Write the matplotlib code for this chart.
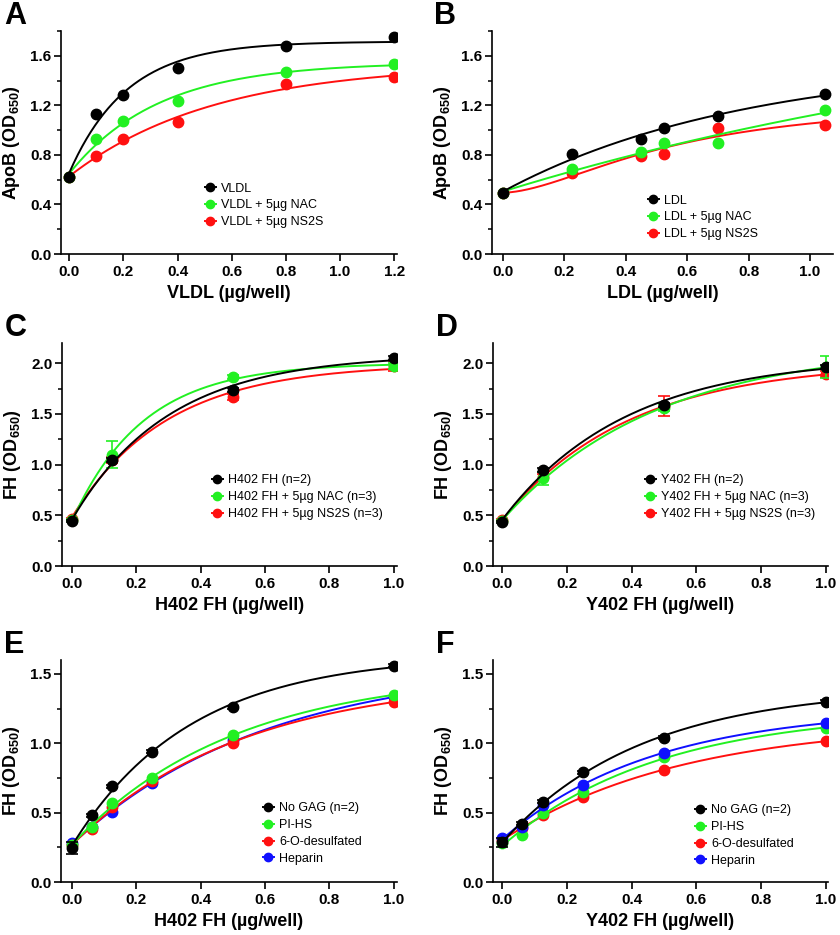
import numpy as np
import matplotlib
matplotlib.use('Agg')
import matplotlib.pyplot as plt
from matplotlib.lines import Line2D
from matplotlib.ticker import MultipleLocator, FormatStrFormatter

plt.rcParams['font.family'] = ['Liberation Sans', 'DejaVu Sans']
plt.rcParams['font.weight'] = 'bold'
plt.rcParams['mathtext.fontset'] = 'custom'
plt.rcParams['mathtext.rm'] = 'Liberation Sans:bold'
plt.rcParams['mathtext.it'] = 'Liberation Sans:bold'
plt.rcParams['mathtext.bf'] = 'Liberation Sans:bold'

BLACK = '#000000'
GREEN = '#22f022'
RED = '#ff1010'
BLUE = '#1010ff'

# panel A - VLDL
a_x = [0, 0.1, 0.2, 0.4, 0.8, 1.2]
a_vldl = [0.62, 1.13, 1.28, 1.50, 1.68, 1.75]
a_nac = [0.62, 0.93, 1.07, 1.235, 1.47, 1.535]
a_ns2s = [0.62, 0.79, 0.93, 1.065, 1.37, 1.425]
a_labels = ['VLDL', 'VLDL + 5µg NAC', 'VLDL + 5µg NS2S']

# panel B - LDL
b_x = [0, 0.225, 0.45, 0.525, 0.7, 1.05]
b_ldl = [0.49, 0.81, 0.93, 1.02, 1.115, 1.29]
b_nac = [0.49, 0.69, 0.82, 0.895, 0.90, 1.16]
b_ns2s = [0.49, 0.65, 0.79, 0.81, 1.02, 1.045]
b_labels = ['LDL', 'LDL + 5µg NAC', 'LDL + 5µg NS2S']

# panel C - H402 FH
c_x = [0, 0.125, 0.5, 1.0]
c_fh = [0.44, 1.05, 1.74, 2.05]
c_fh_err = [0.01, 0.02, 0.02, 0.02]
c_nac = [0.45, 1.10, 1.865, 1.97]
c_nac_err = [0.01, 0.13, 0.02, 0.03]
c_ns2s = [0.46, 1.05, 1.67, 1.97]
c_ns2s_err = [0.01, 0.03, 0.03, 0.05]
c_labels = ['H402 FH (n=2)', 'H402 FH + 5µg NAC (n=3)', 'H402 FH + 5µg NS2S (n=3)']

# panel D - Y402 FH
d_x = [0, 0.125, 0.5, 1.0]
d_fh = [0.43, 0.95, 1.59, 1.965]
d_fh_err = [0.01, 0.02, 0.02, 0.02]
d_nac = [0.44, 0.865, 1.555, 1.965]
d_nac_err = [0.01, 0.065, 0.03, 0.11]
d_ns2s = [0.45, 0.88, 1.575, 1.89]
d_ns2s_err = [0.01, 0.03, 0.10, 0.03]
d_labels = ['Y402 FH (n=2)', 'Y402 FH + 5µg NAC (n=3)', 'Y402 FH + 5µg NS2S (n=3)']

# panels E/F - GAGs
ef_x = [0, 0.0625, 0.125, 0.25, 0.5, 1.0]
e_nogag = [0.245, 0.48, 0.69, 0.94, 1.26, 1.56]
e_nogag_err = [0.04, 0.01, 0.01, 0.01, 0.01, 0.01]
e_pihs = [0.27, 0.40, 0.57, 0.75, 1.056, 1.35]
e_6o = [0.27, 0.385, 0.54, 0.727, 1.00, 1.30]
e_hep = [0.28, 0.40, 0.505, 0.715, 1.02, 1.33]
f_nogag = [0.285, 0.42, 0.58, 0.79, 1.04, 1.30]
f_nogag_err = [0.035, 0.01, 0.01, 0.01, 0.01, 0.01]
f_pihs = [0.28, 0.34, 0.50, 0.65, 0.90, 1.11]
f_6o = [0.30, 0.39, 0.48, 0.61, 0.81, 1.015]
f_hep = [0.315, 0.40, 0.555, 0.70, 0.93, 1.145]
ef_labels = ['No GAG (n=2)', 'PI-HS', '6-O-desulfated', 'Heparin']


def fit_assoc(x, y):
    # one-phase association, grid over k + linear least squares
    x = np.asarray(x, float)
    y = np.asarray(y, float)
    best = None
    for k in np.linspace(0.05, 40, 4000):
        A = np.column_stack([np.ones_like(x), 1 - np.exp(-k * x)])
        coef = np.linalg.lstsq(A, y, rcond=None)[0]
        r = np.sum((A @ coef - y) ** 2)
        if best is None or r < best[0]:
            best = (r, k, coef)
    _, k, coef = best
    return lambda t: coef[0] + coef[1] * (1 - np.exp(-k * t))


def fit_hill(x, y):
    # sigmoidal fit, grid over K and h
    x = np.asarray(x, float)
    y = np.asarray(y, float)
    best = None
    for K in np.linspace(0.1, 1.5, 141):
        for h in np.linspace(1.0, 4.0, 61):
            g = x ** h / (K ** h + x ** h)
            A = np.column_stack([np.ones_like(x), g])
            coef = np.linalg.lstsq(A, y, rcond=None)[0]
            if coef[1] < 0:
                continue
            r = np.sum((A @ coef - y) ** 2)
            if best is None or r < best[0]:
                best = (r, K, h, coef)
    _, K, h, coef = best
    return lambda t: coef[0] + coef[1] * t ** h / (K ** h + t ** h)


W, H = 840, 935
fig = plt.figure(figsize=(W / 100, H / 100), dpi=100)


def make_ax(l, t, r, b):
    ax = fig.add_axes([l / W, 1 - b / H, (r - l) / W, (b - t) / H])
    for s in ['top', 'right']:
        ax.spines[s].set_visible(False)
    for s in ['left', 'bottom']:
        ax.spines[s].set_linewidth(1.2)
    ax.tick_params(which='major', length=5, width=1.2, labelsize=11, pad=2)
    ax.tick_params(axis='y', which='minor', length=3, width=1.1)
    ax.tick_params(axis='x', pad=3)
    return ax


def series(ax, x, y, color, z, err=None, curve=None):
    x = np.asarray(x)
    if err is not None:
        ax.errorbar(x, y, yerr=err, fmt='none', ecolor=color, elinewidth=1.2,
                    capsize=4, capthick=1.2, zorder=z)
    if curve is None:
        curve = fit_assoc(x, y)
    t = np.linspace(0, x.max(), 300)
    ax.plot(t, curve(t), color=color, lw=1.4, zorder=z)
    ax.plot(x, y, 'o', color=color, ms=7.5, mec=color, zorder=z + 0.5)


def legend(ax, colors, labels, mx, my):
    hs = [Line2D([0], [0], color=c, marker='o', ms=6, lw=1.4) for c in colors]
    ax.legend(hs, labels, loc='upper left', frameon=False,
              prop={'size': 9, 'weight': 'normal'},
              handlelength=0.9, handletextpad=0.45, labelspacing=0.38,
              borderpad=0, borderaxespad=0,
              bbox_to_anchor=((mx - 5.5) / W, 1 - (my - 7.5) / H),
              bbox_transform=fig.transFigure)


def finish(ax, letter, xlabel, ylabel, xlim, ylim, ymaj, xmaj):
    ax.set_xlim(*xlim)
    ax.set_ylim(*ylim)
    ax.yaxis.set_major_locator(MultipleLocator(ymaj))
    ax.yaxis.set_minor_locator(MultipleLocator(ymaj / 2))
    ax.xaxis.set_major_locator(MultipleLocator(xmaj))
    ax.yaxis.set_major_formatter(FormatStrFormatter('%.1f'))
    ax.xaxis.set_major_formatter(FormatStrFormatter('%.1f'))
    ax.set_xlabel(xlabel, fontsize=13, fontweight='bold', labelpad=4)
    ax.set_ylabel(ylabel, fontsize=13, fontweight='bold', labelpad=6)
    ax.text(-0.17, 1.135, letter, transform=ax.transAxes, fontsize=22,
            fontweight='bold', va='top', ha='left')


apo = 'ApoB (OD$_{650}$)'
fh = 'FH (OD$_{650}$)'

# A
ax = make_ax(61, 31, 397, 254)
series(ax, a_x, a_ns2s, RED, 2)
series(ax, a_x, a_nac, GREEN, 3)
series(ax, a_x, a_vldl, BLACK, 4)
finish(ax, 'A', 'VLDL (µg/well)', apo, (-0.03, 1.21), (0, 1.8), 0.4, 0.2)
legend(ax, [BLACK, GREEN, RED], a_labels, 210, 190)

# B
ax = make_ax(492, 31, 833, 254)
series(ax, b_x, b_ns2s, RED, 2, curve=fit_hill(b_x, b_ns2s))
series(ax, b_x, b_nac, GREEN, 3)
series(ax, b_x, b_ldl, BLACK, 4)
finish(ax, 'B', 'LDL (µg/well)', apo, (-0.036, 1.075), (0, 1.8), 0.4, 0.2)
legend(ax, [BLACK, GREEN, RED], b_labels, 653, 202)

# C
ax = make_ax(62, 343, 397, 566)
series(ax, c_x, c_ns2s, RED, 2, err=c_ns2s_err)
series(ax, c_x, c_nac, GREEN, 3, err=c_nac_err)
series(ax, c_x, c_fh, BLACK, 4, err=c_fh_err)
finish(ax, 'C', 'H402 FH (µg/well)', fh, (-0.031, 1.01), (0, 2.2), 0.5, 0.2)
legend(ax, [BLACK, GREEN, RED], c_labels, 217, 482)

# D
ax = make_ax(493, 343, 828, 566)
series(ax, d_x, d_ns2s, RED, 2, err=d_ns2s_err)
series(ax, d_x, d_nac, GREEN, 3, err=d_nac_err)
series(ax, d_x, d_fh, BLACK, 4, err=d_fh_err)
finish(ax, 'D', 'Y402 FH (µg/well)', fh, (-0.028, 1.007), (0, 2.2), 0.5, 0.2)
legend(ax, [BLACK, GREEN, RED], d_labels, 650, 482)

# E
ax = make_ax(61, 660, 397, 882)
series(ax, ef_x, e_hep, BLUE, 1)
series(ax, ef_x, e_6o, RED, 2)
series(ax, ef_x, e_pihs, GREEN, 3)
series(ax, ef_x, e_nogag, BLACK, 4, err=e_nogag_err)
finish(ax, 'E', 'H402 FH (µg/well)', fh, (-0.034, 1.01), (0, 1.6), 0.5, 0.2)
legend(ax, [BLACK, GREEN, RED, BLUE], ef_labels, 268, 810)

# F
ax = make_ax(493, 660, 828, 882)
series(ax, ef_x, f_6o, RED, 1)
series(ax, ef_x, f_pihs, GREEN, 2)
series(ax, ef_x, f_hep, BLUE, 3)
series(ax, ef_x, f_nogag, BLACK, 4, err=f_nogag_err)
finish(ax, 'F', 'Y402 FH (µg/well)', fh, (-0.028, 1.007), (0, 1.6), 0.5, 0.2)
legend(ax, [BLACK, GREEN, RED, BLUE], ef_labels, 700, 812)

fig.savefig('out.png', dpi=100)
